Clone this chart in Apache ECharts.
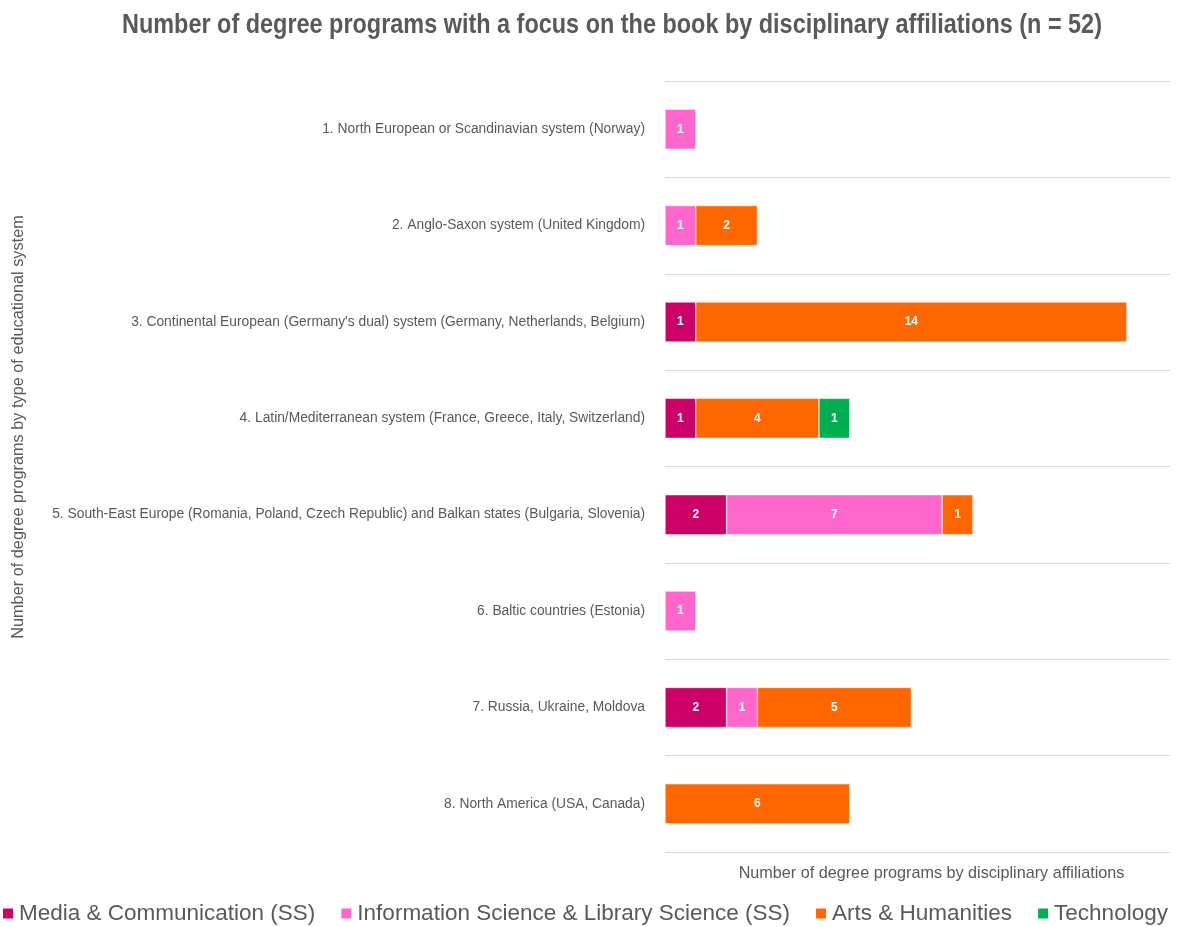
<!DOCTYPE html>
<html><head><meta charset="utf-8">
<script src="https://cdn.jsdelivr.net/npm/echarts@6/dist/echarts.min.js"></script>
<style>html,body{margin:0;padding:0;background:#fff}#c{width:1183px;height:927px}</style>
</head><body><div id="c"></div>
<script>
const categories = [
  "1. North European or Scandinavian system (Norway)",
  "2. Anglo-Saxon system (United Kingdom)",
  "3. Continental European (Germany's dual) system (Germany, Netherlands, Belgium)",
  "4. Latin/Mediterranean system (France, Greece, Italy, Switzerland)",
  "5. South-East Europe (Romania, Poland, Czech Republic) and Balkan states (Bulgaria, Slovenia)",
  "6. Baltic countries (Estonia)",
  "7. Russia, Ukraine, Moldova",
  "8. North America (USA, Canada)"
];
const seriesNames = ["Media & Communication (SS)", "Information Science & Library Science (SS)", "Arts & Humanities", "Technology"];
const media = [null, null, 1, 1, 2, null, 2, null];
const infoSci = [1, 1, null, null, 7, 1, 1, null];
const arts = [null, 2, 14, 4, 1, null, 5, 6];
const tech = [null, null, null, 1, null, null, null, null];
const colors = ["#CC0066", "#FF66CC", "#FF6600", "#00B050"];
const values = [media, infoSci, arts, tech];
const titleText = "Number of degree programs with a focus on the book by disciplinary affiliations (n = 52)";
const xName = "Number of degree programs by disciplinary affiliations";
const yName = "Number of degree programs by type of educational system";

const FONT = "'Liberation Sans', Arial, sans-serif";
const chart = echarts.init(document.getElementById('c'), null, {renderer: 'canvas'});
chart.setOption({
  animation: false,
  legend: {
    top: 902, left: 1, padding: 0,
    itemWidth: 12, itemHeight: 12, itemGap: 24,
    icon: 'rect',
    textStyle: {fontFamily: FONT, fontSize: 22.5, color: '#595959'},
    data: seriesNames
  },
  grid: {left: 665, right: 13, top: 81, bottom: 75, containLabel: false},
  xAxis: {
    type: 'value', min: 0, max: 16.4,
    axisLabel: {show: false}, axisTick: {show: false}, axisLine: {show: false}, splitLine: {show: false},
    name: xName,
    nameLocation: 'middle', nameGap: 14,
    nameTextStyle: {fontFamily: FONT, fontSize: 16.2, color: '#595959', padding: [0, 0, 0, 28]}
  },
  yAxis: {
    type: 'category', inverse: true, data: categories,
    axisLine: {show: false}, axisTick: {show: false},
    splitLine: {show: true, lineStyle: {color: '#D9D9D9', width: 1}},
    axisLabel: {fontFamily: FONT, fontSize: 13.8, color: '#595959', margin: 20}
  },
  graphic: [
    {
      type: 'text', x: 612, y: 25, scaleX: 0.837,
      style: {text: titleText, fontFamily: FONT, fontWeight: 'bold', fontSize: 28, fill: '#595959', textAlign: 'center', textVerticalAlign: 'middle'}
    },
    {
      type: 'text', x: 19, y: 427, rotation: Math.PI / 2,
      style: {text: yName, fontFamily: FONT, fontSize: 16.3, fill: '#595959', textAlign: 'center', textVerticalAlign: 'middle'}
    }
  ],
  series: seriesNames.map((n, i) => ({
    name: n, type: 'bar', stack: 'total', barWidth: 40,
    data: values[i],
    itemStyle: {color: colors[i], borderColor: '#fff', borderWidth: 0.5},
    label: {show: true, position: 'inside', color: '#fff', fontWeight: 'bold', fontSize: 12, fontFamily: FONT}
  }))
});
</script></body></html>
